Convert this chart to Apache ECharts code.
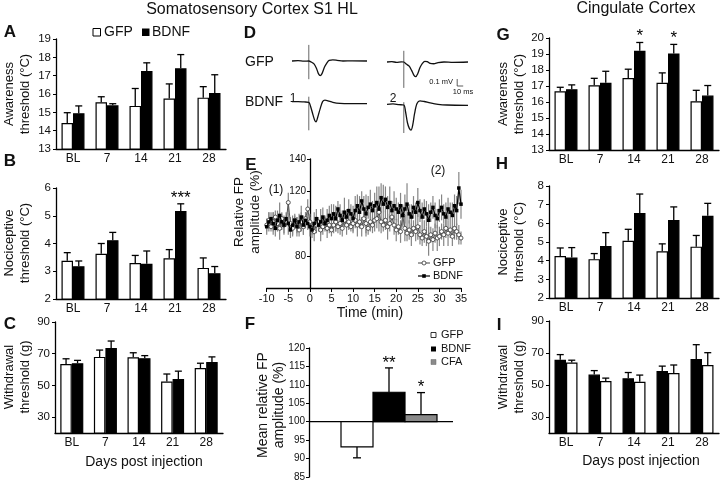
<!DOCTYPE html>
<html><head><meta charset="utf-8">
<script src="https://cdn.jsdelivr.net/npm/echarts@6/dist/echarts.min.js"></script>
<style>html,body{margin:0;padding:0;background:#fff}#c{width:720px;height:482px}</style>
</head><body><div id="c"></div>
<script>
// ---------------- DATA ----------------
const days = ['BL', '7', '14', '21', '28'];
// A  Somatosensory awareness threshold (°C)
const aGFP = [14.42, 15.55, 15.35, 15.75, 15.8];
const aGFPTop = [14.98, 15.85, 16.3, 16.55, 16.4];
const aBDNF = [14.95, 15.38, 17.25, 17.4, 16.05];
const aBDNFTop = [15.35, 15.47, 17.7, 18.15, 17.05];
// B  Nociceptive threshold (°C)
const bGFP = [3.38, 3.63, 3.3, 3.47, 3.12];
const bGFPTop = [3.67, 4.0, 3.57, 3.78, 3.48];
const bBDNF = [3.18, 4.12, 3.27, 5.17, 2.93];
const bBDNFTop = [3.37, 4.4, 3.73, 5.43, 3.17];
const bSig = ['', '', '', '***', ''];
// C  Withdrawal threshold (g)
const cGFP = [63.5, 68, 67.8, 52.5, 61];
const cGFPTop = [66.8, 72.3, 70.6, 57.2, 64];
const cBDNF = [64, 73.6, 67.2, 54, 64.8];
const cBDNFTop = [65.8, 78, 68.8, 59, 68];
const withdrawalTicks = [30, 50, 70, 90];
// G  Cingulate awareness threshold
const gGFP = [16.67, 17.05, 17.5, 17.2, 16.05];
const gGFPTop = [16.92, 17.48, 18.05, 17.82, 16.73];
const gBDNF = [16.8, 17.2, 19.2, 19.03, 16.4];
const gBDNFTop = [17.07, 17.92, 19.72, 19.6, 17.03];
const gSig = ['', '', '*', '*', ''];
// H  Cingulate nociceptive threshold
const hGFP = [4.25, 4.08, 5.07, 4.5, 4.75];
const hGFPTop = [4.68, 4.38, 5.68, 4.9, 5.35];
const hBDNF = [4.17, 4.78, 6.56, 6.18, 6.4];
const hBDNFTop = [4.7, 5.5, 7.57, 6.88, 7.07];
// I  Cingulate withdrawal threshold (BDNF drawn first)
const iBDNF = [65.8, 56.5, 54.2, 58.8, 66.3];
const iBDNFTop = [69, 59, 57.8, 61.8, 75.2];
const iGFP = [64, 52.5, 52, 57.5, 62.5];
const iGFPTop = [65.5, 54.3, 56.2, 62.5, 70.2];
// E  Relative FP amplitude (%) over time (min)
const eTime = [-10,-9.5,-9,-8.5,-8,-7.5,-7,-6.5,-6,-5.5,
  -5,-4.5,-4,-3.5,-3,-2.5,-2,-1.5,-1,-0.5,
  0,
  0.5,1,1.5,2,2.5,3,3.5,4,4.5,5,
  5.5,6,6.5,7,7.5,8,8.5,9,9.5,10,
  10.5,11,11.5,12,12.5,13,13.5,14,14.5,15,
  15.5,16,16.5,17,17.5,18,18.5,19,19.5,20,
  20.5,21,21.5,22,22.5,23,23.5,24,24.5,25,
  25.5,26,26.5,27,27.5,28,28.5,29,29.5,30,
  30.5,31,31.5,32,32.5,33,33.5,34,34.5,35];
const eBDNF = [98,101,103,100,97,102,105,101,99,103,
  100,96,99,102,98,101,104,99,102,100,
  98,
  96,100,103,99,101,104,100,102,105,103,
  106,103,109,105,102,107,104,108,106,103,
  108,111,107,114,109,106,110,112,108,111,
  113,109,116,112,115,110,113,108,111,109,
  107,111,105,109,112,106,104,110,107,113,
  108,104,109,106,102,107,110,105,103,108,
  110,106,104,109,107,105,111,108,122,112];
const eBDNFErr = [5,6,4,7,5,6,8,5,6,4,
  7,5,6,4,6,5,7,6,5,4,
  6,
  5,7,6,4,8,6,5,7,6,9,
  6,8,5,7,6,9,5,7,6,8,
  9,7,10,6,8,12,7,9,6,8,
  10,14,9,12,8,7,10,6,9,7,
  6,8,7,9,13,6,8,7,6,9,
  7,9,6,8,10,6,7,8,6,7,
  8,6,9,7,6,8,7,9,10,9];
const eGFP = [99,102,98,101,104,100,97,103,99,101,
  113,100,97,102,99,96,101,98,103,109,
  101,
  97,95,99,101,96,98,100,97,99,96,
  99,101,98,100,97,102,99,101,98,100,
  102,99,101,98,103,100,97,101,99,102,
  103,107,101,99,102,98,100,104,99,96,
  98,95,105,97,94,96,93,97,95,98,
  93,91,95,92,89,93,90,94,91,92,
  95,93,97,94,96,92,97,95,93,91];
const eGFPErr = [4,5,3,6,4,5,7,4,5,3,
  6,4,5,3,5,4,6,5,4,6,
  5,
  4,6,5,3,7,5,4,6,5,4,
  5,6,4,7,5,4,6,5,3,6,
  5,7,4,6,5,8,4,6,5,7,
  6,5,7,4,6,8,5,4,6,7,
  5,7,6,8,5,6,7,5,6,8,
  6,5,7,6,9,5,7,6,8,6,
  5,7,6,8,5,6,7,5,6,4];
const eYLabels = [80, 120, 140];
const eYTicks = [80, 100, 120, 140];
// F  Mean relative FP amplitude (%)
const fGroups = ['GFP', 'BDNF', 'CFA'];
const fMean = [93.2, 108, 101.9];
const fErrEnd = [90.2, 114.6, 107.9];
const fSig = ['', '**', '*'];
// D  example field potential traces: [time ms, mV]
const dGFP1 = [[0,0],[10,0.005],[20,-0.003],[28,0],[32,-0.015],[37,-0.045],[41,-0.11],[44,-0.18],[47,-0.21],[50,-0.18],[54,-0.09],[58,-0.03],[62,0.01],[68,0.015],[75,0.01],[85,0],[100,0.003],[125,0]];
const dGFP2 = [[0,0],[8,0.005],[16,-0.005],[24,0.003],[28,0],[32,-0.03],[37,-0.06],[41,-0.12],[45,-0.19],[48,-0.21],[51,-0.17],[55,-0.08],[59,-0.02],[63,0.01],[67,0.005],[72,-0.02],[78,-0.025],[85,-0.01],[95,0],[110,-0.005],[135,0]];
const dBDNF1 = [[0,0.02],[10,0.02],[20,0.015],[28,0.01],[31,-0.05],[35,-0.17],[38,-0.25],[40,-0.27],[43,-0.2],[47,-0.08],[51,0.02],[55,0.04],[60,0.03],[68,0.01],[80,-0.005],[95,-0.01],[125,-0.01]];
const dBDNF2 = [[0,0.01],[10,0.015],[20,0.005],[28,0],[31,-0.1],[34,-0.25],[37,-0.33],[40,-0.36],[43,-0.28],[46,-0.12],[50,0.02],[55,0.06],[62,0.05],[72,0.03],[85,0.01],[100,0],[135,-0.005]];
const dArtifacts = [[28, 0.23, -0.26], [28, 0.16, -0.37], [28, 0.09, -0.39], [28, 0.04, -0.4]]; // [ms, top mV, bottom mV]
const dScaleBar = [[117, -0.243], [117, -0.343], [127, -0.343]]; // 0.1 mV, 10 ms

// ---------------- STYLE / LAYOUT ----------------
const FONT = '"Liberation Sans", Arial, sans-serif';
const TXT = '#111';
const chart = echarts.init(document.getElementById('c'), null, {renderer: 'canvas'});

const E_LEFT = 266.7, E_WIDTH = 194.3, E_ZERO_X = 310;
const grids = [
  {left: 56, top: 39, width: 170, height: 110},   // 0 A
  {left: 56, top: 188, width: 170, height: 111},  // 1 B
  {left: 55, top: 322, width: 168, height: 111},  // 2 C
  {left: 549, top: 38, width: 170, height: 112},  // 3 G
  {left: 549, top: 186, width: 170, height: 112}, // 4 H
  {left: 549, top: 321, width: 170, height: 112}, // 5 I
  {left: E_LEFT, top: 159, width: E_WIDTH, height: 129}, // 6 E
  {left: 309, top: 348, width: 144, height: 130}, // 7 F
  {left: 292, top: 40, width: 81, height: 56},    // 8 D GFP1
  {left: 387, top: 41, width: 81, height: 56},    // 9 D GFP2
  {left: 292, top: 82, width: 81, height: 56},    // 10 D BDNF1
  {left: 387, top: 84, width: 81, height: 56}     // 11 D BDNF2
];

const axLine = {show: true, onZero: false, lineStyle: {color: '#000', width: 1.3}};
function catX(gi) {
  return {type: 'category', gridIndex: gi, data: days, axisLine: axLine, axisTick: {show: false},
    axisLabel: {color: TXT, fontSize: 12, fontFamily: FONT, margin: 4}};
}
function valY(gi, min, max, interval, custom) {
  const a = {type: 'value', gridIndex: gi, min: min, max: max, splitLine: {show: false}, axisLine: axLine,
    axisTick: {show: true, length: 3, lineStyle: {color: '#000', width: 1}},
    axisLabel: {color: TXT, fontSize: 11.5, fontFamily: FONT, margin: 5}};
  if (interval) a.interval = interval;
  if (custom) { a.axisLabel.customValues = custom; a.axisTick.customValues = custom; }
  return a;
}
function hiddenX(gi, min, max) { return {type: 'value', gridIndex: gi, min: min, max: max, show: false}; }
function hiddenY(gi, min, max) { return {type: 'value', gridIndex: gi, min: min, max: max, show: false}; }

const xAxes = [catX(0), catX(1), catX(2), catX(3), catX(4), catX(5),
  {type: 'value', gridIndex: 6, min: -10, max: 35, interval: 5, splitLine: {show: false},
   axisLine: axLine, axisTick: {show: true, length: 4, lineStyle: {color: '#000'}},
   axisLabel: {color: TXT, fontSize: 11, fontFamily: FONT, margin: 5}},
  hiddenX(7, -0.5, 4),
  hiddenX(8, 0, 135), hiddenX(9, 0, 135), hiddenX(10, 0, 135), hiddenX(11, 0, 135)];
const eY = valY(6, 60, 140, 20);
eY.offset = -(E_ZERO_X - E_LEFT);   // y axis drawn at time 0
eY.axisLabel.customValues = eYLabels; eY.axisTick.customValues = eYTicks; eY.axisLabel.fontSize = 10; eY.axisLabel.margin = 4;
const fY = valY(7, 85, 120, 5); fY.axisLabel.fontSize = 10; fY.axisLabel.margin = 4;
const yAxes = [valY(0, 13, 19, 1), valY(1, 2, 6, 1), valY(2, 20, 90, null, withdrawalTicks),
  valY(3, 13, 20, 1), valY(4, 2, 8, 1), valY(5, 20, 90, null, withdrawalTicks),
  eY, fY,
  hiddenY(8, -0.5, 0.3), hiddenY(9, -0.5, 0.3), hiddenY(10, -0.5, 0.3), hiddenY(11, -0.5, 0.3)];

function bars(gi, data, color) {
  return {type: 'bar', xAxisIndex: gi, yAxisIndex: gi, data: data, barWidth: 11.5, barGap: '0%', silent: true, z: 2,
    itemStyle: {color: color, borderColor: '#000', borderWidth: 1.2}};
}
function errs(gi, mean, top, off, sig) {
  return {type: 'custom', xAxisIndex: gi, yAxisIndex: gi, z: 4, silent: true,
    data: mean.map((m, i) => [i, m, top[i]]),
    renderItem: function (params, api) {
      const i = api.value(0);
      const p = api.coord([i, api.value(1)]);
      const q = api.coord([i, api.value(2)]);
      const cx = p[0] + off;
      const ch = [
        {type: 'line', shape: {x1: cx, y1: p[1], x2: cx, y2: q[1]}, style: {stroke: '#000', lineWidth: 1.3}},
        {type: 'line', shape: {x1: cx - 3.5, y1: q[1], x2: cx + 3.5, y2: q[1]}, style: {stroke: '#000', lineWidth: 1.3}}
      ];
      const s = sig && sig[params.dataIndex];
      if (s) ch.push({type: 'text', x: cx, y: q[1] - 6, style: {text: s, font: '17px ' + FONT, fill: '#000', textAlign: 'center', textVerticalAlign: 'middle'}});
      return {type: 'group', children: ch};
    }};
}
const OFF = 5.75;
const series = [];
function barPanel(gi, first, firstTop, firstColor, second, secondTop, secondColor, sig1, sig2) {
  series.push(bars(gi, first, firstColor), bars(gi, second, secondColor));
  series.push(errs(gi, first, firstTop, -OFF, sig1), errs(gi, second, secondTop, OFF, sig2));
}
barPanel(0, aGFP, aGFPTop, '#fff', aBDNF, aBDNFTop, '#000');
barPanel(1, bGFP, bGFPTop, '#fff', bBDNF, bBDNFTop, '#000', null, bSig);
barPanel(2, cGFP, cGFPTop, '#fff', cBDNF, cBDNFTop, '#000');
barPanel(3, gGFP, gGFPTop, '#fff', gBDNF, gBDNFTop, '#000', null, gSig);
barPanel(4, hGFP, hGFPTop, '#fff', hBDNF, hBDNFTop, '#000');
barPanel(5, iBDNF, iBDNFTop, '#000', iGFP, iGFPTop, '#fff');

// E
function eErr(vals, errsArr) {
  return {type: 'custom', xAxisIndex: 6, yAxisIndex: 6, z: 2, silent: true,
    data: eTime.map((t, i) => [t, vals[i], errsArr[i]]),
    renderItem: function (params, api) {
      const t = api.value(0), v = api.value(1), e = api.value(2);
      const p = api.coord([t, v - e]), q = api.coord([t, v + e]);
      return {type: 'line', shape: {x1: p[0], y1: p[1], x2: q[0], y2: q[1]}, style: {stroke: '#858585', lineWidth: 1.2}};
    }};
}
series.push(eErr(eGFP, eGFPErr), eErr(eBDNF, eBDNFErr));
series.push({type: 'line', xAxisIndex: 6, yAxisIndex: 6, z: 3, silent: true, animation: false,
  data: eTime.map((t, i) => [t, eGFP[i]]), symbol: 'circle', symbolSize: 4, showAllSymbol: true,
  itemStyle: {color: '#fff', borderColor: '#333', borderWidth: 0.8}, lineStyle: {color: '#555', width: 1}});
series.push({type: 'line', xAxisIndex: 6, yAxisIndex: 6, z: 4, silent: true, animation: false,
  data: eTime.map((t, i) => [t, eBDNF[i]]), symbol: 'rect', symbolSize: 3.5, showAllSymbol: true,
  itemStyle: {color: '#000'}, lineStyle: {color: '#000', width: 1.2}});

// F
const fColors = ['#fff', '#000', '#8a8a8a'];
series.push({type: 'custom', xAxisIndex: 7, yAxisIndex: 7, z: 3, silent: true,
  data: fMean.map((m, i) => [i + 1, m, fErrEnd[i]]),
  renderItem: function (params, api) {
    const x = api.value(0), m = api.value(1), e = api.value(2);
    const w = api.size([1, 0])[0];
    const base = api.coord([x, 100]), top = api.coord([x, m]), ee = api.coord([x, e]);
    const y0 = Math.min(base[1], top[1]), h = Math.abs(base[1] - top[1]);
    const ch = [
      {type: 'line', shape: {x1: top[0], y1: top[1], x2: ee[0], y2: ee[1]}, style: {stroke: '#000', lineWidth: 1.3}},
      {type: 'line', shape: {x1: ee[0] - 4, y1: ee[1], x2: ee[0] + 4, y2: ee[1]}, style: {stroke: '#000', lineWidth: 1.3}},
      {type: 'rect', shape: {x: top[0] - w / 2, y: y0, width: w, height: h}, style: {fill: fColors[params.dataIndex], stroke: '#000', lineWidth: 1.2}}
    ];
    const s = fSig[params.dataIndex];
    if (s) ch.push({type: 'text', x: ee[0], y: ee[1] - 5, style: {text: s, font: '17px ' + FONT, fill: '#000', textAlign: 'center', textVerticalAlign: 'middle'}});
    return {type: 'group', children: ch};
  }});
series.push({type: 'line', xAxisIndex: 7, yAxisIndex: 7, z: 2, silent: true, symbol: 'none',
  data: [[-0.5, 100], [4, 100]], lineStyle: {color: '#000', width: 1.3}});

// D traces
[dGFP1, dGFP2, dBDNF1, dBDNF2].forEach(function (tr, k) {
  const a = dArtifacts[k];
  series.push({type: 'line', xAxisIndex: 8 + k, yAxisIndex: 8 + k, symbol: 'none', silent: true,
    data: [[a[0], a[1]], [a[0], a[2]]], lineStyle: {color: '#666', width: 1}});
  series.push({type: 'line', xAxisIndex: 8 + k, yAxisIndex: 8 + k, symbol: 'none', silent: true, smooth: 0.3,
    data: tr, lineStyle: {color: '#111', width: 1.3}});
});
series.push({type: 'line', xAxisIndex: 9, yAxisIndex: 9, symbol: 'none', silent: true,
  data: dScaleBar, lineStyle: {color: '#333', width: 0.8}});

// ---------------- TEXT (graphic) ----------------
function T(x, y, text, size, o) {
  o = o || {};
  return {type: 'text', x: x, y: y, rotation: o.rot || 0, silent: true, z: 10,
    style: {text: text, font: (o.bold ? 'bold ' : '') + size + 'px ' + FONT, fill: o.color || TXT,
      textAlign: o.align || 'center', textVerticalAlign: 'middle', lineHeight: o.lh || size * 1.2}};
}
const R = Math.PI / 2;
const graphic = [
  T(252, 10, 'Somatosensory Cortex S1 HL', 16),
  T(636, 9, 'Cingulate Cortex', 16),
  T(10, 32, 'A', 17, {bold: true}), T(10, 161, 'B', 17, {bold: true}), T(10, 324, 'C', 17, {bold: true}),
  T(250, 33, 'D', 17, {bold: true}), T(251, 165, 'E', 17, {bold: true}), T(250, 324, 'F', 17, {bold: true}),
  T(503, 35, 'G', 17, {bold: true}), T(502, 164, 'H', 17, {bold: true}), T(499, 325, 'I', 17, {bold: true}),
  T(17, 94, 'Awareness\nthreshold (°C)', 13, {rot: R, lh: 16}),
  T(17, 243, 'Nociceptive\nthreshold (°C)', 13, {rot: R, lh: 16}),
  T(17, 377, 'Withdrawal\nthreshold (g)', 13, {rot: R, lh: 16}),
  T(511, 94, 'Awareness\nthreshold (°C)', 13, {rot: R, lh: 16}),
  T(511, 242, 'Nociceptive\nthreshold (°C)', 13, {rot: R, lh: 16}),
  T(511, 377, 'Withdrawal\nthreshold (g)', 13, {rot: R, lh: 16}),
  T(247, 212, 'Relative FP\namplitude (%)', 13.5, {rot: R, lh: 16}),
  T(271, 405, 'Mean relative FP\namplitude (%)', 14, {rot: R, lh: 16}),
  T(144, 462, 'Days post injection', 14),
  T(641, 461, 'Days post injection', 14),
  T(370, 313, 'Time (min)', 14),
  // A legend
  {type: 'rect', shape: {x: 93, y: 28.5, width: 7.5, height: 7.5}, style: {fill: '#fff', stroke: '#000', lineWidth: 1}, silent: true},
  T(104, 32.5, 'GFP', 14, {align: 'left'}),
  {type: 'rect', shape: {x: 142, y: 28.5, width: 7.5, height: 7.5}, style: {fill: '#000'}, silent: true},
  T(152, 32.5, 'BDNF', 14, {align: 'left'}),
  // D labels
  T(245, 62, 'GFP', 14, {align: 'left'}),
  T(245, 102, 'BDNF', 14, {align: 'left'}),
  T(293, 99, '1', 12), T(393, 99, '2', 12),
  T(453, 82, '0.1 mV', 7.5, {align: 'right'}),
  T(463, 92, '10 ms', 7.5),
  // E annotations & legend
  T(276, 190, '(1)', 12), T(438, 171, '(2)', 12),
  {type: 'line', shape: {x1: 418, y1: 263, x2: 430, y2: 263}, style: {stroke: '#444', lineWidth: 1}, silent: true},
  {type: 'circle', shape: {cx: 424, cy: 263, r: 2}, style: {fill: '#fff', stroke: '#333', lineWidth: 0.8}, silent: true},
  T(433, 263, 'GFP', 11, {align: 'left'}),
  {type: 'line', shape: {x1: 418, y1: 276, x2: 430, y2: 276}, style: {stroke: '#000', lineWidth: 1.2}, silent: true},
  {type: 'rect', shape: {x: 422.2, y: 274.2, width: 3.6, height: 3.6}, style: {fill: '#000'}, silent: true},
  T(433, 276, 'BDNF', 11, {align: 'left'}),
  // F legend
  {type: 'rect', shape: {x: 431, y: 332.5, width: 5, height: 5}, style: {fill: '#fff', stroke: '#000', lineWidth: 0.8}, silent: true},
  T(441, 335, fGroups[0], 11, {align: 'left'}),
  {type: 'rect', shape: {x: 431, y: 346.5, width: 5, height: 5}, style: {fill: '#000'}, silent: true},
  T(441, 349, fGroups[1], 11, {align: 'left'}),
  {type: 'rect', shape: {x: 431, y: 359.5, width: 5, height: 5}, style: {fill: '#8a8a8a', stroke: '#666', lineWidth: 0.5}, silent: true},
  T(441, 362, fGroups[2], 11, {align: 'left'})
];

chart.setOption({
  animation: false,
  backgroundColor: '#fff',
  textStyle: {fontFamily: FONT},
  grid: grids,
  xAxis: xAxes,
  yAxis: yAxes,
  series: series,
  graphic: graphic
});
</script></body></html>
